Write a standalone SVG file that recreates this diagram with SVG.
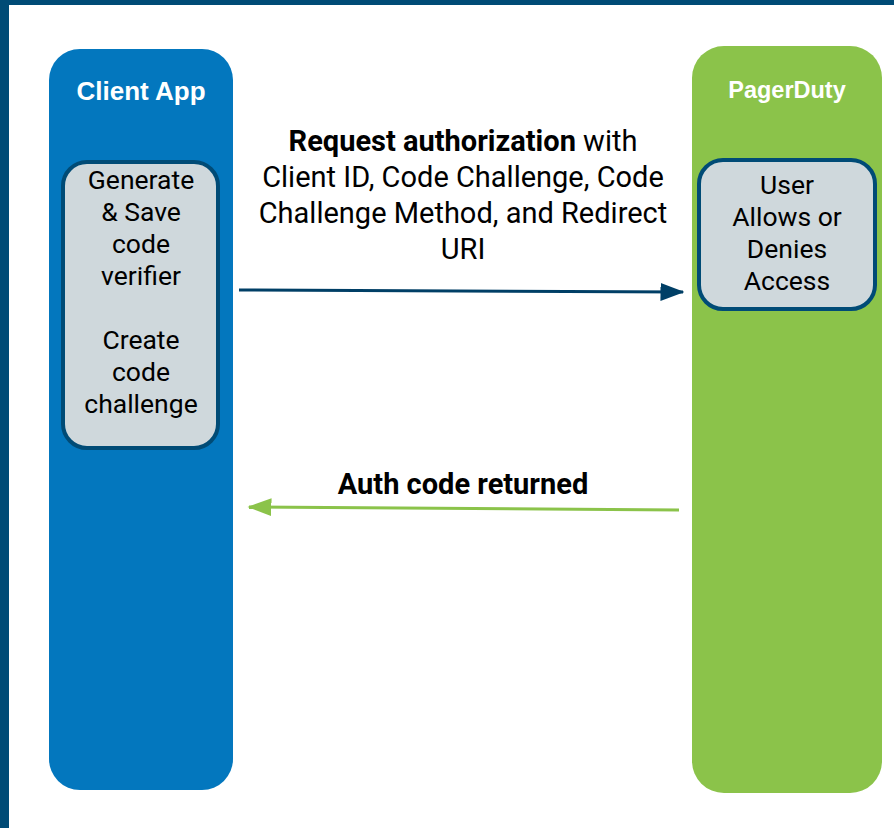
<svg xmlns="http://www.w3.org/2000/svg" width="894" height="828" viewBox="0 0 894 828">
<style>
.lane-t{font-family:"Liberation Sans",Arial,sans-serif;font-weight:bold;fill:#fff;text-anchor:middle}
.box{fill:#cfd8dc;stroke:#004b76;stroke-width:4}
.bt{font-family:Roboto,"Liberation Sans",sans-serif;font-size:26.5px;fill:#000;text-anchor:middle}
.mt{font-family:Roboto,"Liberation Sans",sans-serif;font-size:29px;fill:#000;text-anchor:middle}
</style>
<defs>
<marker id="ah-blue" markerWidth="8" markerHeight="6" refX="7.5" refY="3" orient="auto" markerUnits="strokeWidth"><path d="M0,0 L8,3 L0,6 Z" fill="#003f66"/></marker>
<marker id="ah-green" markerWidth="8" markerHeight="6" refX="7.5" refY="3" orient="auto" markerUnits="strokeWidth"><path d="M0,0 L8,3 L0,6 Z" fill="#8bc34a"/></marker>
</defs>
<rect width="894" height="828" fill="#fff"/>
<rect x="0" y="0" width="894" height="5" fill="#004b76"/>
<rect x="0" y="0" width="9" height="828" fill="#004b76"/>
<g id="client-app">
<rect x="49" y="49" width="184" height="741" rx="31" fill="#0377be"/>
<text class="lane-t" x="141" y="100" font-size="26">Client App</text>
</g>
<g id="pagerduty">
<rect x="692" y="46" width="190" height="747" rx="32" fill="#8bc34a"/>
<text class="lane-t" x="787" y="98" font-size="23.5">PagerDuty</text>
</g>
<g id="client-box">
<rect class="box" x="63" y="162" width="155" height="286" rx="24"/>
<text class="bt" x="141" y="189">Generate</text>
<text class="bt" x="141" y="221">&amp; Save</text>
<text class="bt" x="141" y="253">code</text>
<text class="bt" x="141" y="285">verifier</text>
<text class="bt" x="141" y="349">Create</text>
<text class="bt" x="141" y="381">code</text>
<text class="bt" x="141" y="413">challenge</text>
</g>
<g id="user-box">
<rect class="box" x="699" y="160" width="176" height="149" rx="24"/>
<text class="bt" x="787" y="194">User</text>
<text class="bt" x="787" y="226">Allows or</text>
<text class="bt" x="787" y="258">Denies</text>
<text class="bt" x="787" y="290">Access</text>
</g>
<g id="connectors">
<line x1="239" y1="290" x2="683" y2="292" stroke="#003f66" stroke-width="3" marker-end="url(#ah-blue)"/>
<line x1="679" y1="510" x2="249" y2="507" stroke="#8bc34a" stroke-width="3" marker-end="url(#ah-green)"/>
</g>
<g id="labels">
<text class="mt" x="463" y="151"><tspan font-weight="bold">Request authorization</tspan> with</text>
<text class="mt" x="463" y="187">Client ID, Code Challenge, Code</text>
<text class="mt" x="463" y="223">Challenge Method, and Redirect</text>
<text class="mt" x="463" y="259">URI</text>
<text class="mt" x="463" y="494" font-weight="bold">Auth code returned</text>
</g>
</svg>
